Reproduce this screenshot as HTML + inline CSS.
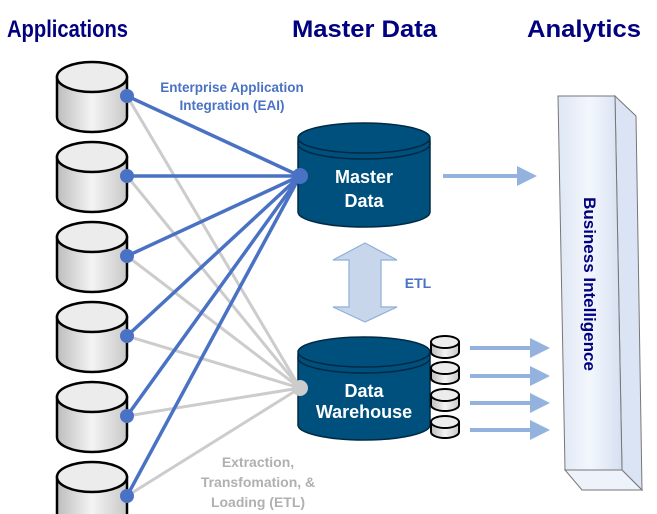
<!DOCTYPE html>
<html><head><meta charset="utf-8"><style>html,body{margin:0;padding:0;background:#fff}svg{display:block}</style></head><body>
<svg width="657" height="514" viewBox="0 0 657 514" xmlns="http://www.w3.org/2000/svg" font-family="Liberation Sans, Arial, sans-serif">
<defs>
<linearGradient id="cg" x1="0" x2="1" y1="0" y2="0">
<stop offset="0" stop-color="#bdbdbd"/><stop offset="0.5" stop-color="#f4f4f4"/><stop offset="1" stop-color="#c8c8c8"/>
</linearGradient>
<linearGradient id="bi" x1="0" x2="1"><stop offset="0" stop-color="#dfe7f5"/><stop offset="0.5" stop-color="#f3f6fc"/><stop offset="1" stop-color="#d6e0f2"/></linearGradient>
<g id="cyl">
<path d="M0,15 L0,55 A35,15 0 0 0 70,55 L70,15 Z" fill="url(#cg)" stroke="#000" stroke-width="2.5"/>
<ellipse cx="35" cy="15" rx="35" ry="15" fill="#ececec" stroke="#000" stroke-width="2.5"/>
</g>
<g id="sc">
<path d="M0,6 L0,16 A14,6 0 0 0 28,16 L28,6 Z" fill="url(#cg)" stroke="#000" stroke-width="2"/>
<ellipse cx="14" cy="6" rx="14" ry="6" fill="#ececec" stroke="#000" stroke-width="2"/>
</g>
</defs>
<g font-weight="bold" fill="#000080" font-size="24">
<text x="7" y="37" textLength="121" lengthAdjust="spacingAndGlyphs">Applications</text>
<text x="292" y="37" textLength="145" lengthAdjust="spacingAndGlyphs">Master Data</text>
<text x="527" y="37" textLength="114" lengthAdjust="spacingAndGlyphs">Analytics</text>
</g>
<use href="#cyl" x="57" y="62"/><use href="#cyl" x="57" y="142"/><use href="#cyl" x="57" y="222"/>
<use href="#cyl" x="57" y="302"/><use href="#cyl" x="57" y="382"/><use href="#cyl" x="57" y="462"/>
<g stroke="#cccccc" stroke-width="3">
<line x1="127" y1="96" x2="300" y2="388"/><line x1="127" y1="176" x2="300" y2="388"/><line x1="127" y1="256" x2="300" y2="388"/>
<line x1="127" y1="336" x2="300" y2="388"/><line x1="127" y1="416" x2="300" y2="388"/><line x1="127" y1="496" x2="300" y2="388"/>
</g>
<g stroke="#4a72c4" stroke-width="3.5">
<line x1="127" y1="96" x2="300" y2="176"/><line x1="127" y1="176" x2="300" y2="176"/><line x1="127" y1="256" x2="300" y2="176"/>
<line x1="127" y1="336" x2="300" y2="176"/><line x1="127" y1="416" x2="300" y2="176"/><line x1="127" y1="496" x2="300" y2="176"/>
</g>
<g fill="#4a72c4">
<circle cx="127" cy="96" r="7"/><circle cx="127" cy="176" r="7"/><circle cx="127" cy="256" r="7"/>
<circle cx="127" cy="336" r="7"/><circle cx="127" cy="416" r="7"/><circle cx="127" cy="496" r="7"/>
</g>
<text x="232" y="92" text-anchor="middle" font-size="13.5" font-weight="bold" fill="#4a72c4">Enterprise Application</text>
<text x="232" y="110" text-anchor="middle" font-size="13.5" font-weight="bold" fill="#4a72c4">Integration (EAI)</text>
<path d="M298,140 L298,212 A66,15 0 0 0 430,212 L430,140 Z" fill="#00507e" stroke="#002a44" stroke-width="1.5"/>
<ellipse cx="364" cy="144" rx="66" ry="15" fill="#00507e" stroke="#002a44" stroke-width="1.5"/>
<ellipse cx="364" cy="138" rx="66" ry="15" fill="#00507e" stroke="#002a44" stroke-width="1.5"/>
<circle cx="300" cy="176" r="8" fill="#4a72c4"/>
<text x="364" y="183" text-anchor="middle" font-size="18" font-weight="bold" fill="#fff">Master</text>
<text x="364" y="207" text-anchor="middle" font-size="18" font-weight="bold" fill="#fff">Data</text>
<polygon points="365,243 397,260 381,260 381,307 397,307 365,322 333,307 349,307 349,260 333,260" fill="#c8d6ec" stroke="#8eaedb" stroke-width="1.2"/>
<text x="418" y="288" text-anchor="middle" font-size="14" font-weight="bold" fill="#4a72c4">ETL</text>
<path d="M298,354 L298,425 A66,15 0 0 0 430,425 L430,354 Z" fill="#00507e" stroke="#002a44" stroke-width="1.5"/>
<ellipse cx="364" cy="358" rx="66" ry="15" fill="#00507e" stroke="#002a44" stroke-width="1.5"/>
<ellipse cx="364" cy="352" rx="66" ry="15" fill="#00507e" stroke="#002a44" stroke-width="1.5"/>
<circle cx="300" cy="388" r="8" fill="#cccccc"/>
<text x="364" y="397" text-anchor="middle" font-size="18" font-weight="bold" fill="#fff">Data</text>
<text x="364" y="418" text-anchor="middle" font-size="18" font-weight="bold" fill="#fff">Warehouse</text>
<use href="#sc" x="431" y="336"/><use href="#sc" x="431" y="362"/><use href="#sc" x="431" y="389"/><use href="#sc" x="431" y="416"/>
<g font-size="14" font-weight="bold" fill="#b0b0b0" text-anchor="middle">
<text x="258" y="467">Extraction,</text><text x="258" y="487">Transfomation, &amp;</text><text x="258" y="507">Loading (ETL)</text>
</g>
<g fill="#93b3de">
<rect x="443" y="174" width="76" height="4"/><polygon points="517,166 537,176 517,186"/>
<rect x="470" y="346" width="62" height="4"/><polygon points="530,338 550,348 530,358"/>
<rect x="470" y="374" width="62" height="4"/><polygon points="530,366 550,376 530,386"/>
<rect x="470" y="401" width="62" height="4"/><polygon points="530,393 550,403 530,413"/>
<rect x="470" y="428" width="62" height="4"/><polygon points="530,420 550,430 530,440"/>
</g>
<polygon points="615,96 636,116 642,490 622,470" fill="#dbe4f4" stroke="#777" stroke-width="1"/>
<polygon points="565,470 622,470 642,490 582,490" fill="#eef2fa" stroke="#777" stroke-width="1"/>
<polygon points="558,96 615,96 622,470 565,470" fill="url(#bi)" stroke="#777" stroke-width="1"/>
<text transform="translate(584,284) rotate(90)" text-anchor="middle" font-size="17" font-weight="bold" fill="#000080">Business Intelligence</text>
</svg>
</body></html>
